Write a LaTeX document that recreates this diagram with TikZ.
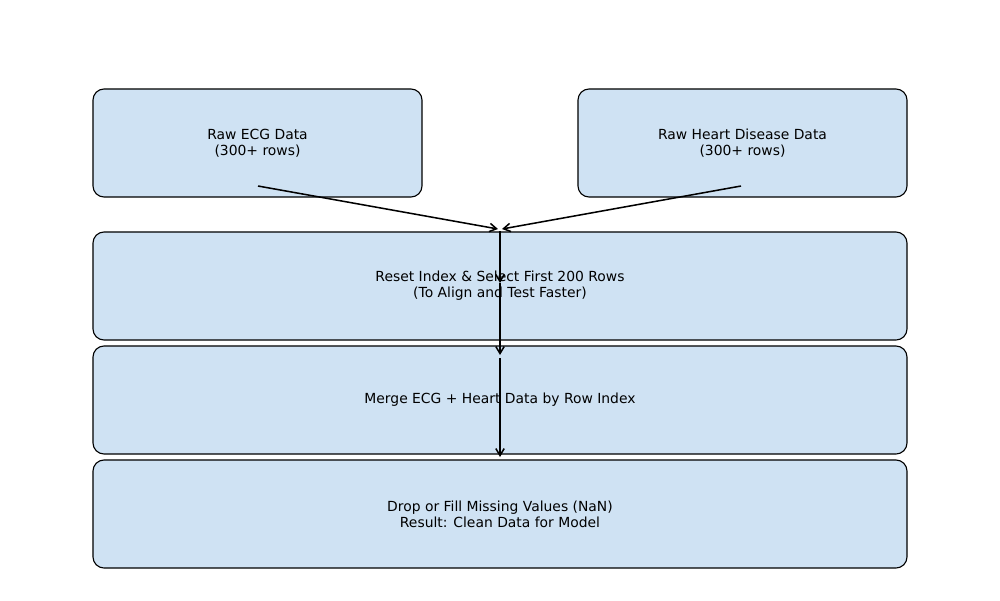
\documentclass[tikz,border=0pt]{standalone}
\usepackage{fontspec}
\setmainfont{DejaVu Sans}
\usetikzlibrary{arrows.meta}
\definecolor{boxfill}{RGB}{207,226,243}
\begin{document}
\begin{tikzpicture}[x=0.72pt,y=-0.72pt,
  box/.style={draw=black,line width=0.8pt,fill=boxfill,rounded corners=8pt,
    inner sep=0pt,align=center,font=\fontsize{10}{11.5}\selectfont},
  smallbox/.style={box,minimum width=236.9pt,minimum height=77.8pt},
  widebox/.style={box,minimum width=586.1pt,minimum height=77.8pt},
  conn/.style={line width=1.1pt,-{Straight Barb[length=5pt,width=6pt,line width=1.1pt]}}]
\useasboundingbox (0,0) rectangle (1000,600);
\node[smallbox] (ecg) at (257.5,143) {Raw ECG Data\\(300+ rows)};
\node[smallbox] (heart) at (742.5,143) {Raw Heart Disease Data\\(300+ rows)};
\node[widebox] (reset) at (500,286) {Reset Index \& Select First 200 Rows\\(To Align and Test Faster)};
\node[widebox] (merge) at (500,400) {Merge ECG + Heart Data by Row Index};
\node[widebox] (drop) at (500,514) {Drop or Fill Missing Values (NaN)\\Result: Clean Data for Model};
\coordinate (ecgout) at (258,186);
\coordinate (heartout) at (741,186);
\coordinate (join1) at (498,229);
\coordinate (join2) at (502,229);
\coordinate (rtop) at (500,231);
\coordinate (rmid) at (500,283);
\coordinate (mtop) at (500,355);
\coordinate (mout) at (500,358);
\coordinate (dtop) at (500,457);
\draw[conn] (ecgout) -- (join1);
\draw[conn] (heartout) -- (join2);
\draw[conn] (rtop) -- (rmid);
\draw[conn] (rmid) -- (mtop);
\draw[conn] (mout) -- (dtop);
\end{tikzpicture}
\end{document}
